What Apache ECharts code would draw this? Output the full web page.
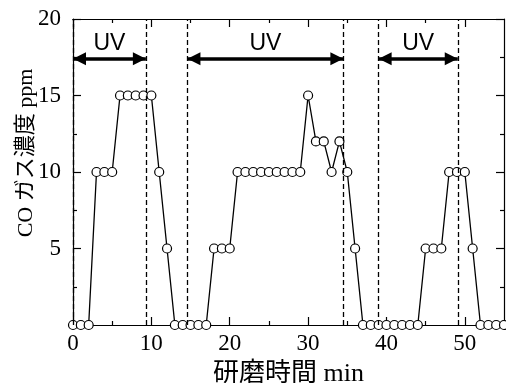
<!DOCTYPE html>
<html>
<head>
<meta charset="utf-8">
<script src="https://cdn.jsdelivr.net/npm/echarts@6/dist/echarts.min.js"></script>
<style>
  html, body { margin: 0; padding: 0; background: #fff; }
  #chart { width: 506px; height: 383px; }
</style>
</head>
<body>
<div id="chart"></div>
<script>
// Polishing time (min) and measured CO gas concentration (ppm)
const timeMin = [0, 1, 2, 3, 4, 5, 6, 7, 8, 9, 10, 11, 12, 13, 14, 15, 16, 17, 18, 19,
  20, 21, 22, 23, 24, 25, 26, 27, 28, 29, 30, 31, 32, 33, 34, 35, 36, 37, 38, 39,
  40, 41, 42, 43, 44, 45, 46, 47, 48, 49, 50, 51, 52, 53, 54, 55];
const coPpm = [0, 0, 0, 10, 10, 10, 15, 15, 15, 15, 15, 10, 5, 0, 0, 0, 0, 0, 5, 5,
  5, 10, 10, 10, 10, 10, 10, 10, 10, 10, 15, 12, 12, 10, 12, 10, 5, 0, 0, 0,
  0, 0, 0, 0, 0, 5, 5, 5, 10, 10, 10, 5, 0, 0, 0, 0];

// UV irradiation periods (start, end) in minutes
const uvStart = [0, 14.6, 39.0];
const uvEnd = [9.3, 34.5, 49.1];
const uvLevel = 17.4;          // height of the period arrows (ppm scale)

// Axis ticks
const xMajorTicks = [0, 10, 20, 30, 40, 50];
const xMinorTicks = [5, 15, 25, 35, 45];

const serif = "'Liberation Serif', 'Times New Roman', 'Noto Sans CJK JP', serif";
const black = '#000';

const boundaries = [];
uvStart.forEach((s, i) => { boundaries.push(s, uvEnd[i]); });

function xAxisDef(position, ticks, len, withLabels) {
  return {
    type: 'value', position: position, min: 0, max: 55,
    axisLine: { show: true, onZero: false, lineStyle: { color: black, width: 1.2 } },
    axisTick: { show: true, inside: true, length: len, customValues: ticks,
      lineStyle: { color: black, width: 1.2 } },
    axisLabel: withLabels ? {
      show: true, customValues: ticks, margin: 7,
      color: black, fontFamily: serif, fontSize: 23
    } : { show: false },
    splitLine: { show: false }
  };
}

function yAxisDef(position, withLabels) {
  return {
    type: 'value', position: position, min: 0, max: 20, interval: 5,
    axisLine: { show: true, onZero: false, lineStyle: { color: black, width: 1.2 } },
    axisTick: { show: true, inside: true, length: 8, lineStyle: { color: black, width: 1.2 } },
    minorTick: { show: true, splitNumber: 2, length: 4, lineStyle: { color: black, width: 1.2 } },
    axisLabel: withLabels ? {
      show: true, margin: 12, showMinLabel: false,
      color: black, fontFamily: serif, fontSize: 23
    } : { show: false },
    splitLine: { show: false }
  };
}

const chart = echarts.init(document.getElementById('chart'), null, { renderer: 'canvas' });

chart.setOption({
  animation: false,
  backgroundColor: '#fff',
  grid: { left: 73, right: 2, top: 19, bottom: 58, containLabel: false, outerBoundsMode: 'none' },
  xAxis: [
    Object.assign(xAxisDef('bottom', xMajorTicks, 8, true), {
      name: '研磨時間 min', nameLocation: 'middle', nameGap: 36, nameMoveOverlap: false,
      nameTextStyle: { color: black, fontFamily: serif, fontSize: 26 }
    }),
    xAxisDef('bottom', xMinorTicks, 4, false),
    xAxisDef('top', xMajorTicks, 8, false),
    xAxisDef('top', xMinorTicks, 4, false)
  ],
  yAxis: [yAxisDef('left', true), yAxisDef('right', false)],
  graphic: [{
    type: 'text', x: 26, y: 153, rotation: Math.PI / 2,
    style: {
      text: 'CO ガス濃度 ppm', fill: black, font: '22px ' + serif,
      align: 'center', verticalAlign: 'middle'
    }
  }],
  series: [
    {
      // dashed boundaries of the UV periods
      type: 'line', data: [], z: 1, silent: true,
      markLine: {
        silent: true, symbol: 'none', animation: false,
        label: { show: false },
        lineStyle: { color: black, width: 1.3, type: [5, 3] },
        data: boundaries.map(v => ({ xAxis: v }))
      }
    },
    {
      // double arrows with "UV" captions
      type: 'line', data: [], z: 2, silent: true,
      markLine: {
        silent: true, animation: false,
        symbol: ['triangle', 'triangle'], symbolSize: [13, 13],
        symbolOffset: [[0, 6.5], [0, 6.5]],
        lineStyle: { color: black, width: 3.5, type: 'solid' },
        itemStyle: { color: black },
        label: {
          show: true, position: 'middle', formatter: 'UV', distance: 4,
          color: black, fontFamily: "'Liberation Sans', Arial, sans-serif", fontSize: 23
        },
        emphasis: { disabled: true },
        data: uvStart.map((s, i) => [{ coord: [s, uvLevel] }, { coord: [uvEnd[i], uvLevel] }])
      }
    },
    {
      name: 'CO', type: 'line', z: 3,
      data: timeMin.map((t, i) => [t, coPpm[i]]),
      symbol: 'circle', symbolSize: 9, showAllSymbol: true,
      lineStyle: { color: black, width: 1.3 },
      itemStyle: { color: '#fff', borderColor: black, borderWidth: 1.2 },
      clip: false
    }
  ]
});
</script>
</body>
</html>
